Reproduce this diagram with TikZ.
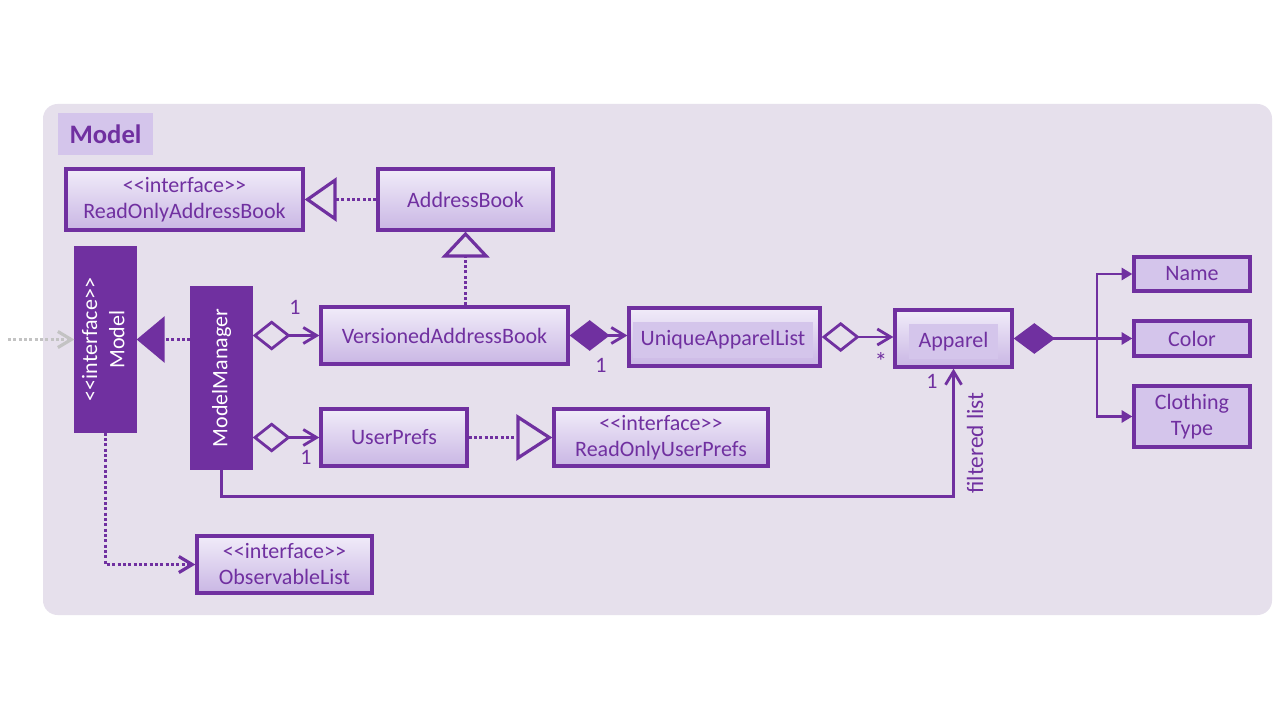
\documentclass[tikz,border=0pt]{standalone}
\usepackage{fontspec}
\setmainfont{Carlito}
\usetikzlibrary{arrows.meta}
\definecolor{pur}{HTML}{7030A0}
\definecolor{panel}{HTML}{E6E0EC}
\definecolor{lite}{HTML}{D4C5EB}
\definecolor{gtop}{HTML}{F1ECF9}
\definecolor{gbot}{HTML}{C9B6E4}
\definecolor{ghost}{HTML}{C3C3C3}
\newcommand{\stereo}{<{}<interface>{}>}
\begin{document}
\begin{tikzpicture}[x=0.75pt,y=-0.75pt,
  font=\fontsize{16.5}{19.5}\selectfont, text=pur,
  span/.style n args={4}{at={({(#1+#3)/2},{(#2+#4)/2})},
    minimum width={(#3-#1)*0.75pt}, minimum height={(#4-#2)*0.75pt}},
  box/.style={draw=pur, line width=2.5pt, inner sep=0pt, align=center},
  ubox/.style={box, top color=gtop, bottom color=gbot},
  fbox/.style={box, fill=lite},
  dbox/.style={box, fill=pur, text=white},
  inner/.style={fill=lite, inner sep=0pt},
  conn/.style={draw=pur, line width=2.1pt},
  dots/.style={conn, line width=2.4pt, dash pattern=on 2.3pt off 1.7pt},
  barb/.tip={Straight Barb[length=10pt,width=12pt]},
  agg/.style={conn, {Diamond[open,length=28.5pt,width=22.5pt]}-barb},
  comp/.style={conn, {Diamond[length=30pt,width=23pt]}-barb},
  lbl/.style={inner sep=0pt, text=pur}]

% canvas and package panel
\useasboundingbox (0,0) rectangle (1280,720);
\fill[white] (0,0) rectangle (1280,720);
\fill[panel, rounded corners=11pt] (43,104) rectangle (1272,615);
\node[inner, span={58}{113}{153}{155},
      font=\fontsize{20}{24}\selectfont\bfseries] (title) {Model};

% classes
\node[ubox, span={66}{169}{303}{230}] (roab) {\stereo\\ReadOnlyAddressBook};
\node[ubox, span={378}{169}{553}{230}] (ab) {AddressBook};
\node[dbox, span={76}{248}{135}{431}] (model)
  {\rotatebox{90}{\begin{tabular}{@{}c@{}}\stereo\\[1pt]Model\end{tabular}}};
\node[dbox, span={192}{288}{251}{468}] (mm) {\rotatebox{90}{ModelManager}};
\node[ubox, span={321}{307}{568}{364}] (vab) {VersionedAddressBook};
\node[ubox, span={629}{308}{820}{366}] (ual) {};
\node[inner, span={633}{322}{813}{358}] (ualt) {UniqueApparelList};
\node[ubox, span={895}{310}{1012}{367}] (app) {};
\node[inner, span={909}{324}{998}{359}] (appt) {Apparel};
\node[ubox, span={321}{409}{467}{466}] (up) {UserPrefs};
\node[ubox, span={554}{409}{768}{466}] (roup) {\stereo\\ReadOnlyUserPrefs};
\node[ubox, span={197}{536}{372}{593}] (obs) {\stereo\\ObservableList};
\node[fbox, span={1134}{257}{1250}{291}] (name) {Name};
\node[fbox, span={1134}{321}{1250}{356}] (col) {Color};
\node[fbox, span={1134}{386}{1250}{447}] (ct) {Clothing\\Type};

% realisation and dependency links
\draw[dots, -{Triangle[open,length=24pt,width=33pt]}] (ab.west) -- (roab.east);
\draw[dots, -{Triangle[open,length=19.5pt,width=36pt]}] (ab.south |- vab.north) -- (ab.south);
\draw[dots, -{Triangle[open,length=27pt,width=34.5pt]}] (up.east) -- (roup.west);
\draw[dots, -{Triangle[length=21pt,width=34.5pt]}] (mm.west |- model.east) -- (model.east);
\draw[dots, -barb] (model.south) |- (obs.west);
\coordinate (ext) at (8,339.5);
\draw[dots, draw=ghost, -barb] (ext) -- (model.west);

% associations
\draw[agg] (mm.east |- vab.west) -- (vab.west);
\draw[agg] (mm.east |- up.west) -- (up.west);
\draw[comp] (vab.east) -- (ual.west |- vab.east);
\draw[agg] (ual.east) -- (app.west |- ual.east);
\draw[conn, -barb] (mm.south) -- ++(0,27) -| (app.south);

% apparel attributes
\coordinate (br) at (1097,338.5);
\draw[conn, {Diamond[length=31pt,width=23pt]}-{Triangle[length=8pt,width=9pt]}] (app.east) -- (col.west);
\draw[conn, -{Triangle[length=8pt,width=9pt]}] (br) |- (name.west);
\draw[conn, -{Triangle[length=8pt,width=9pt]}] (br) |- (ct.west);

% multiplicities and role name
\node[lbl] (m1) at (295,307) {1};
\node[lbl] (m2) at (306,457) {1};
\node[lbl] (m3) at (601,365) {1};
\node[lbl, font=\fontsize{19}{20}\selectfont] (m4) at (881,362) {*};
\node[lbl] (m5) at (932,381) {1};
\node[lbl, rotate=90, font=\fontsize{17.5}{20}\selectfont] (role) at (975,443) {filtered list};
\end{tikzpicture}
\end{document}
